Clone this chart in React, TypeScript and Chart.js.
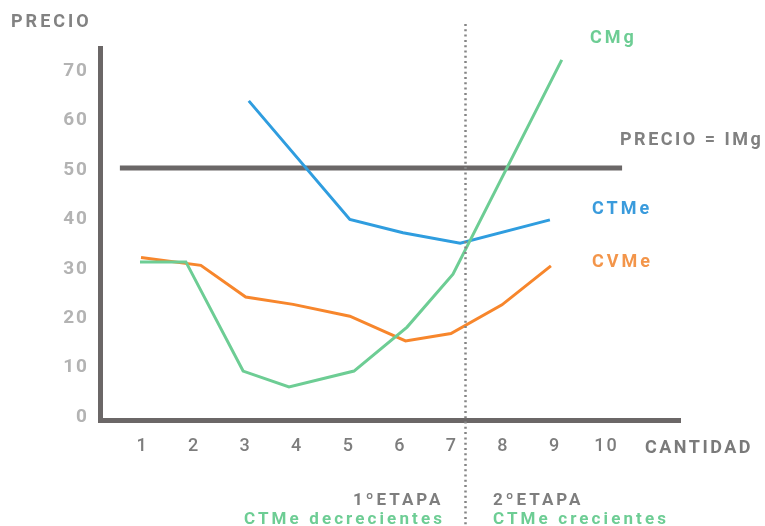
import React, { useEffect, useRef } from 'react';
import { Chart, registerables } from 'chart.js';

Chart.register(...registerables);

// ---- data ----
const xTicks = [1, 2, 3, 4, 5, 6, 7, 8, 9, 10];
const yTicks = [0, 10, 20, 30, 40, 50, 60, 70];

const cmgX = [0.98, 1.87, 2.98, 3.87, 5.13, 6.16, 7.05, 9.16];
const cmgY = [31.0, 31.0, 8.9, 5.7, 8.9, 17.8, 28.5, 71.9];

const ctmeX = [3.09, 5.05, 6.08, 7.19, 8.93];
const ctmeY = [63.6, 39.6, 36.9, 34.8, 39.5];

const cvmeX = [1.0, 2.16, 3.03, 3.95, 5.05, 6.13, 7.01, 8.0, 8.95];
const cvmeY = [31.9, 30.3, 23.9, 22.4, 20.0, 15.0, 16.5, 22.3, 30.2];

const priceX = [0.59, 10.33];
const priceY = [50, 50];

const stageBoundary = 7.28;

const GREEN = '#6dcd94';
const BLUE = '#2f9ddf';
const ORANGE = '#f7862c';
const AXIS = '#6b6767';
const FONT = 'Roboto, "DejaVu Sans", sans-serif';

const texts = [
  { text: 'PRECIO', x: 11, y: 27, color: '#828282', size: 18, spacing: 3 },
  { text: 'CANTIDAD', x: 645, y: 453, color: '#7a7a7a', size: 18, spacing: 2.5 },
  { text: 'CMg', x: 590, y: 43, color: GREEN, size: 18, spacing: 3 },
  { text: 'PRECIO = IMg', x: 620, y: 145, color: '#808080', size: 18, spacing: 2.5 },
  { text: 'CTMe', x: 592, y: 214, color: '#3a9bdc', size: 18, spacing: 3 },
  { text: 'CVMe', x: 592, y: 267, color: '#f3954a', size: 18, spacing: 3 },
  { text: '1ºETAPA', x: 353, y: 505, color: '#7e7e7e', size: 17, spacing: 3 },
  { text: 'CTMe decrecientes', x: 244, y: 524, color: GREEN, size: 17, spacing: 3.1 },
  { text: '2ºETAPA', x: 493, y: 505, color: '#7e7e7e', size: 17, spacing: 3 },
  { text: 'CTMe crecientes', x: 493, y: 524, color: GREEN, size: 17, spacing: 3.1 },
];

const toPts = (xs: number[], ys: number[]) => xs.map((x, i) => ({ x, y: ys[i] }));

const decorPlugin = {
  id: 'decor',
  beforeDraw(chart: any) {
    chart.ctx.letterSpacing = '2px';
  },
  afterDatasetsDraw(chart: any) {
    const ctx = chart.ctx;
    const px = chart.scales.x.getPixelForValue(stageBoundary);
    ctx.save();
    ctx.letterSpacing = '0px';
    ctx.strokeStyle = '#858585';
    ctx.lineWidth = 2.5;
    ctx.setLineDash([2, 3.3]);
    ctx.beginPath();
    ctx.moveTo(Math.round(px) + 0.5, 24);
    ctx.lineTo(Math.round(px) + 0.5, 526);
    ctx.stroke();
    ctx.restore();
  },
  afterDraw(chart: any) {
    const ctx = chart.ctx;
    ctx.save();
    ctx.textBaseline = 'alphabetic';
    ctx.textAlign = 'left';
    for (const t of texts) {
      ctx.font = `bold ${t.size}px ${FONT}`;
      ctx.letterSpacing = `${t.spacing}px`;
      ctx.fillStyle = t.color;
      ctx.fillText(t.text, t.x, t.y);
    }
    ctx.restore();
  },
};

export default function App() {
  const ref = useRef<HTMLCanvasElement | null>(null);

  useEffect(() => {
    if (!ref.current) return;
    const lineDs = (label: string, xs: number[], ys: number[], color: string, width: number, order: number) => ({
      label,
      data: toPts(xs, ys),
      borderColor: color,
      backgroundColor: color,
      borderWidth: width,
      pointRadius: 0,
      tension: 0,
      fill: false,
      clip: false as any,
      borderCapStyle: 'butt' as const,
      borderJoinStyle: 'miter' as const,
      order,
    });
    const chart = new Chart(ref.current, {
      type: 'line',
      data: {
        datasets: [
          lineDs('CMg', cmgX, cmgY, GREEN, 3, 1),
          lineDs('CTMe', ctmeX, ctmeY, BLUE, 3, 2),
          lineDs('CVMe', cvmeX, cvmeY, ORANGE, 3, 3),
          lineDs('PRECIO = IMg', priceX, priceY, AXIS, 5, 10),
        ],
      },
      options: {
        responsive: false,
        animation: false,
        events: [],
        layout: { padding: { top: 48.5, right: 84.5, left: 0, bottom: 0 } },
        plugins: { legend: { display: false }, tooltip: { enabled: false } },
        scales: {
          x: {
            type: 'linear',
            min: 0.214,
            max: 11.463,
            afterFit: (s: any) => { s.height = 105.5; },
            afterBuildTicks: (s: any) => { s.ticks = xTicks.map((v) => ({ value: v })); },
            grid: { display: false },
            border: { display: true, width: 5, color: AXIS },
            ticks: {
              padding: 7,
              labelOffset: 1.5,
              color: '#7d7d7d',
              font: { family: FONT, size: 18, weight: '500' as any },
              maxRotation: 0,
              autoSkip: false,
            },
          },
          y: {
            type: 'linear',
            min: -1.11,
            max: 74.2,
            afterFit: (s: any) => { s.width = 100.5; },
            afterBuildTicks: (s: any) => { s.ticks = yTicks.map((v) => ({ value: v })); },
            grid: { display: false },
            border: { display: true, width: 5, color: AXIS },
            ticks: {
              padding: 3.5,
              labelOffset: 2,
              color: '#b3b3b3',
              font: { family: FONT, size: 19, weight: 'bold' },
            },
          },
        },
      },
      plugins: [decorPlugin],
    });
    return () => chart.destroy();
  }, []);

  return (
    <div style={{ position: 'fixed', left: 0, top: 0, width: 765, height: 526, background: '#fff' }}>
      <canvas ref={ref} width={765} height={526} style={{ display: 'block' }} />
    </div>
  );
}
